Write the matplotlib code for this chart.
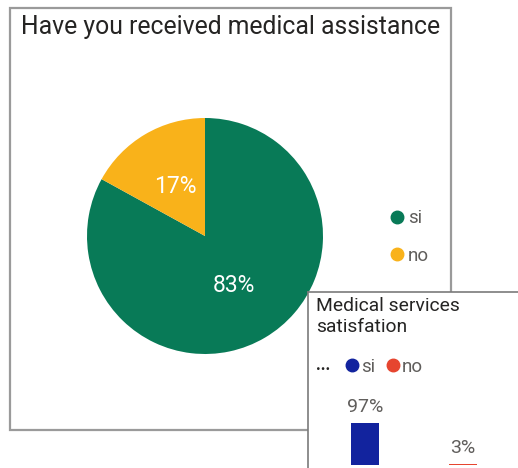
import matplotlib.pyplot as plt
from matplotlib.lines import Line2D
from matplotlib.patches import Rectangle

# --- data ---
assist_labels = ["si", "no"]
assist_share = [83, 17]
assist_colors = ["#087A57", "#F9B21A"]

satisf_labels = ["si", "no"]
satisf_share = [97, 3]
satisf_colors = ["#12239E", "#E6452F"]

W, H = 518, 468
DPI = 100
FONT = "Roboto"
DARK = "#252423"
GREY = "#605E5C"
BORDER = "#9A9A9A"

plt.rcParams["font.family"] = [FONT, "DejaVu Sans"]

fig = plt.figure(figsize=(W / DPI, H / DPI), dpi=DPI)
fig.patch.set_facecolor("white")


def px_rect(x0, y0, x1, y1):
    """pixel box (top-left origin) -> figure fraction [l, b, w, h]"""
    return [x0 / W, 1 - y1 / H, (x1 - x0) / W, (y1 - y0) / H]


def px(x, y):
    return x / W, 1 - y / H


# ---------------- panel 1: pie ----------------
fig.patches.append(Rectangle(px(10, 430), 441 / W, 422 / H, transform=fig.transFigure,
                             facecolor="white", edgecolor=BORDER, lw=1.6, zorder=0))
fig.text(*px(21, 27), "Have you received medical assistance", fontsize=17.8,
         color=DARK, va="center", ha="left")

ax_pie = fig.add_axes(px_rect(87, 118, 323, 354), zorder=1)
wedges, _, autotexts = ax_pie.pie(
    assist_share, colors=assist_colors, startangle=90, counterclock=False,
    autopct="%d%%", pctdistance=0.49, radius=1.0,
    wedgeprops=dict(linewidth=0),
    textprops=dict(color="white", fontsize=16.5),
)
ax_pie.set_xlim(-1, 1)
ax_pie.set_ylim(-1, 1)
ax_pie.set_aspect("equal")
ax_pie.axis("off")

handles1 = [Line2D([], [], marker="o", ls="", markersize=9, color=c) for c in assist_colors]
fig.legend(handles1, assist_labels, loc="center left", bbox_to_anchor=px(391, 237),
           frameon=False, borderpad=0, borderaxespad=0, handlelength=0.64,
           handletextpad=0.27, labelspacing=1.05, fontsize=13.5, labelcolor=GREY)

# ---------------- panel 2: bars ----------------
ax_box = fig.add_axes(px_rect(308, 292, W + 5, H + 5), zorder=2)
ax_box.set_facecolor("white")
ax_box.set_xticks([])
ax_box.set_yticks([])
for side in ["right", "bottom"]:
    ax_box.spines[side].set_visible(False)
for side in ["top", "left"]:
    ax_box.spines[side].set_color("#7A7A7A")
    ax_box.spines[side].set_linewidth(1.2)

fig.text(*px(316, 297), "Medical services\nsatisfation", fontsize=13.9, color=DARK,
         va="top", ha="left", linespacing=1.18, zorder=5)
fig.text(*px(316, 365), "...", fontsize=12, color=DARK, va="center", ha="left",
         fontweight="bold", zorder=5)

handles2 = [Line2D([], [], marker="o", ls="", markersize=9, color=c) for c in satisf_colors]
leg2 = fig.legend(handles2, satisf_labels, loc="center left", bbox_to_anchor=px(346, 367),
                  ncol=2, frameon=False, borderpad=0, borderaxespad=0, handlelength=0.64,
                  handletextpad=0.16, columnspacing=0.64, fontsize=13.5, labelcolor=GREY)
leg2.set_zorder(5)

# baseline sits just above the bottom edge so the small bar stays visible
ax_bar = fig.add_axes(px_rect(316, 465 - 43, 512, 465), zorder=3)
ax_bar.patch.set_alpha(0)
x = range(len(satisf_share))
bars = ax_bar.bar(x, satisf_share, width=0.28, color=satisf_colors)
ax_bar.set_xlim(-0.5, 1.5)
ax_bar.set_ylim(0, 100)
ax_bar.axis("off")
for b, v in zip(bars, satisf_share):
    ax_bar.annotate(f"{v}%", (b.get_x() + b.get_width() / 2, v), xytext=(0, 5),
                    textcoords="offset points", ha="center", va="bottom",
                    fontsize=14, color=GREY, annotation_clip=False)

fig.savefig("out.png", dpi=DPI)
